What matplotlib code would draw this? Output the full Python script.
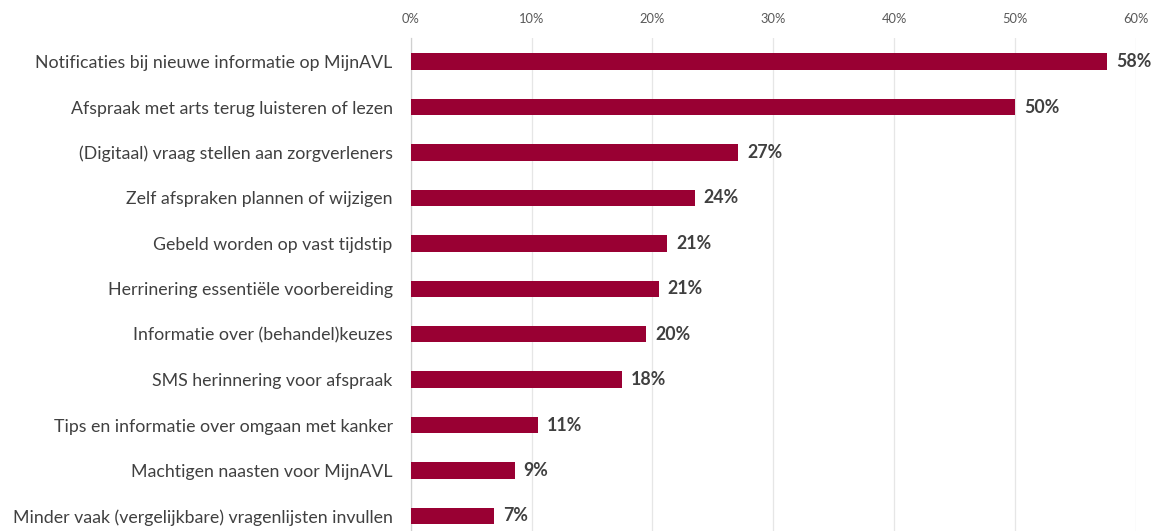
import matplotlib.pyplot as plt
from matplotlib.ticker import FuncFormatter

# Data (percent of respondents)
categories = [
    'Notificaties bij nieuwe informatie op MijnAVL',
    'Afspraak met arts terug luisteren of lezen',
    '(Digitaal) vraag stellen aan zorgverleners',
    'Zelf afspraken plannen of wijzigen',
    'Gebeld worden op vast tijdstip',
    'Herrinering essentiële voorbereiding',
    'Informatie over (behandel)keuzes',
    'SMS herinnering voor afspraak',
    'Tips en informatie over omgaan met kanker',
    'Machtigen naasten voor MijnAVL',
    'Minder vaak (vergelijkbare) vragenlijsten invullen',
]
values = [57.6, 50.0, 27.1, 23.5, 21.2, 20.5, 19.5, 17.5, 10.5, 8.6, 6.9]
value_labels = ['58%', '50%', '27%', '24%', '21%', '21%', '20%', '18%', '11%', '9%', '7%']
x_ticks = [0, 10, 20, 30, 40, 50, 60]


def main() -> None:
    plt.rcParams['font.family'] = ['Lato', 'DejaVu Sans']

    fig = plt.figure(figsize=(11.52, 5.31), dpi=100)
    # axes area: x from 0% (px 410) to 60% (px 1136), y from px 38 to bottom
    ax = fig.add_axes([410.7 / 1152, 0.0, (1136 - 410.7) / 1152, (531 - 38) / 531])

    pos = list(range(len(categories)))
    ax.barh(pos, values, height=0.36, color='#990033', zorder=3)

    for p, v, lab in zip(pos, values, value_labels):
        ax.annotate(lab, xy=(v, p), xytext=(6.5, 0), textcoords='offset points',
                    va='center', ha='left', fontsize=12.8, fontweight='bold',
                    color='#404040')

    ax.set_xlim(0, 60)
    ax.set_ylim(10 + 15 / 45.3, -0.52)
    ax.set_xticks(x_ticks)
    ax.xaxis.set_major_formatter(FuncFormatter(lambda x, _: f'{x:.0f}%'))
    ax.xaxis.tick_top()
    ax.tick_params(axis='x', length=0, pad=9.5, labelsize=9.3, labelcolor='#595959')

    ax.set_yticks(pos)
    ax.set_yticklabels(categories)
    ax.tick_params(axis='y', length=0, pad=13, labelsize=12.8, labelcolor='#404040')

    ax.grid(axis='x', color='#e6e6e6', linewidth=0.9, zorder=0)
    for side in ['top', 'right', 'bottom']:
        ax.spines[side].set_visible(False)
    ax.spines['left'].set_color('#d0d0d0')
    ax.spines['left'].set_linewidth(0.9)

    fig.savefig('out.png', dpi=100)


if __name__ == "__main__":
    main()
